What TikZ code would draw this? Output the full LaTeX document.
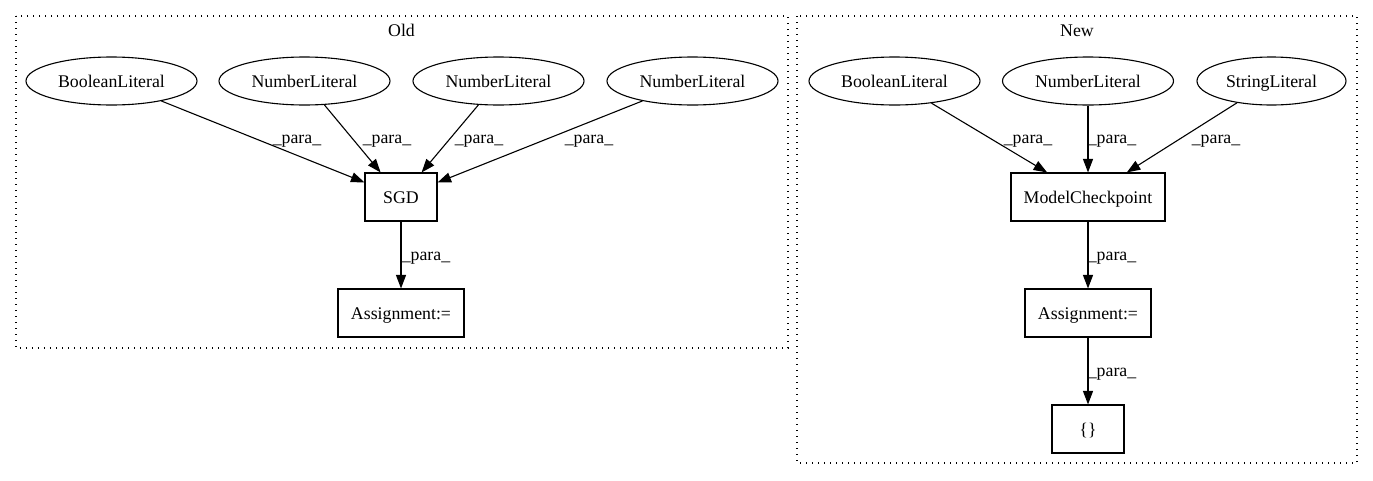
\documentclass[tikz,border=0pt]{standalone}
\usepackage{fontspec}
\setmainfont{Liberation Serif}
\usetikzlibrary{arrows.meta,shapes.geometric}
\begin{document}
\begin{tikzpicture}[x=1pt,y=-1pt,
  txt/.style={font=\fontsize{17.8}{20}\selectfont, text height=15pt, text depth=3pt},
  lit/.style={txt, draw, ellipse, minimum width=171pt, minimum height=48pt, inner sep=0pt, line width=1.1pt},
  box/.style={txt, draw, rectangle, minimum height=48pt, inner sep=0pt, line width=1.1pt},
  lbl/.style={anchor=base, font=\fontsize{17.8}{20}\selectfont, inner sep=0pt},
  conn/.style={-{Triangle[length=13.5pt,width=10pt]}, line width=1.1pt},
  cluster/.style={draw, line width=1.1pt, dash pattern=on 1.2pt off 4.8pt}
]
\useasboundingbox[fill=white] (0,0) rectangle (1373,480);

% clusters
\draw[cluster] (16,16) rectangle (788,348);
\draw[cluster] (797,16) rectangle (1357,463);
\node[lbl] (oldlbl) at (401.5,36) {Old};
\node[lbl] (newlbl) at (1077,36) {New};

% Old
\node[lit] (oBL) at (111.5,81) {BooleanLiteral};
\node[lit] (oN1) at (304.5,81) {NumberLiteral};
\node[lit] (oN2) at (498.5,81) {NumberLiteral};
\node[lit] (oN3) at (692.5,81) {NumberLiteral};
\node[box, minimum width=72pt] (sgd) at (401,197) {SGD};
\node[box, minimum width=126pt] (oAsg) at (401,313) {Assignment:=};

\draw[conn] (oBL) -- (sgd);
\draw[conn] (oN1) -- (sgd);
\draw[conn] (oN2) -- (sgd);
\draw[conn] (oN3) -- (sgd);
\draw[conn] (sgd) -- (oAsg);

\node[lbl] (l1) at (297,143.5) {\_para\_};
\node[lbl] (l2) at (387,143.5) {\_para\_};
\node[lbl] (l3) at (479,143.5) {\_para\_};
\node[lbl] (l4) at (589,143.5) {\_para\_};
\node[lbl] (l5) at (426,260) {\_para\_};

% New
\node[lit] (nBL) at (894.5,81) {BooleanLiteral};
\node[lit] (nNL) at (1088,81) {NumberLiteral};
\node[lit, minimum width=149pt] (nSL) at (1271.5,81) {StringLiteral};
\node[box, minimum width=154pt] (mc) at (1088,197) {ModelCheckpoint};
\node[box, minimum width=126pt] (nAsg) at (1088,313) {Assignment:=};
\node[box, minimum width=72pt] (brace) at (1088,429) {\{\}};

\draw[conn] (nBL) -- (mc);
\draw[conn] (nNL) -- (mc);
\draw[conn] (nSL) -- (mc);
\draw[conn] (mc) -- (nAsg);
\draw[conn] (nAsg) -- (brace);

\node[lbl] (l6) at (1028,143.5) {\_para\_};
\node[lbl] (l7) at (1112,143.5) {\_para\_};
\node[lbl] (l8) at (1216,143.5) {\_para\_};
\node[lbl] (l9) at (1112,260) {\_para\_};
\node[lbl] (l10) at (1112,376) {\_para\_};
\end{tikzpicture}
\end{document}
